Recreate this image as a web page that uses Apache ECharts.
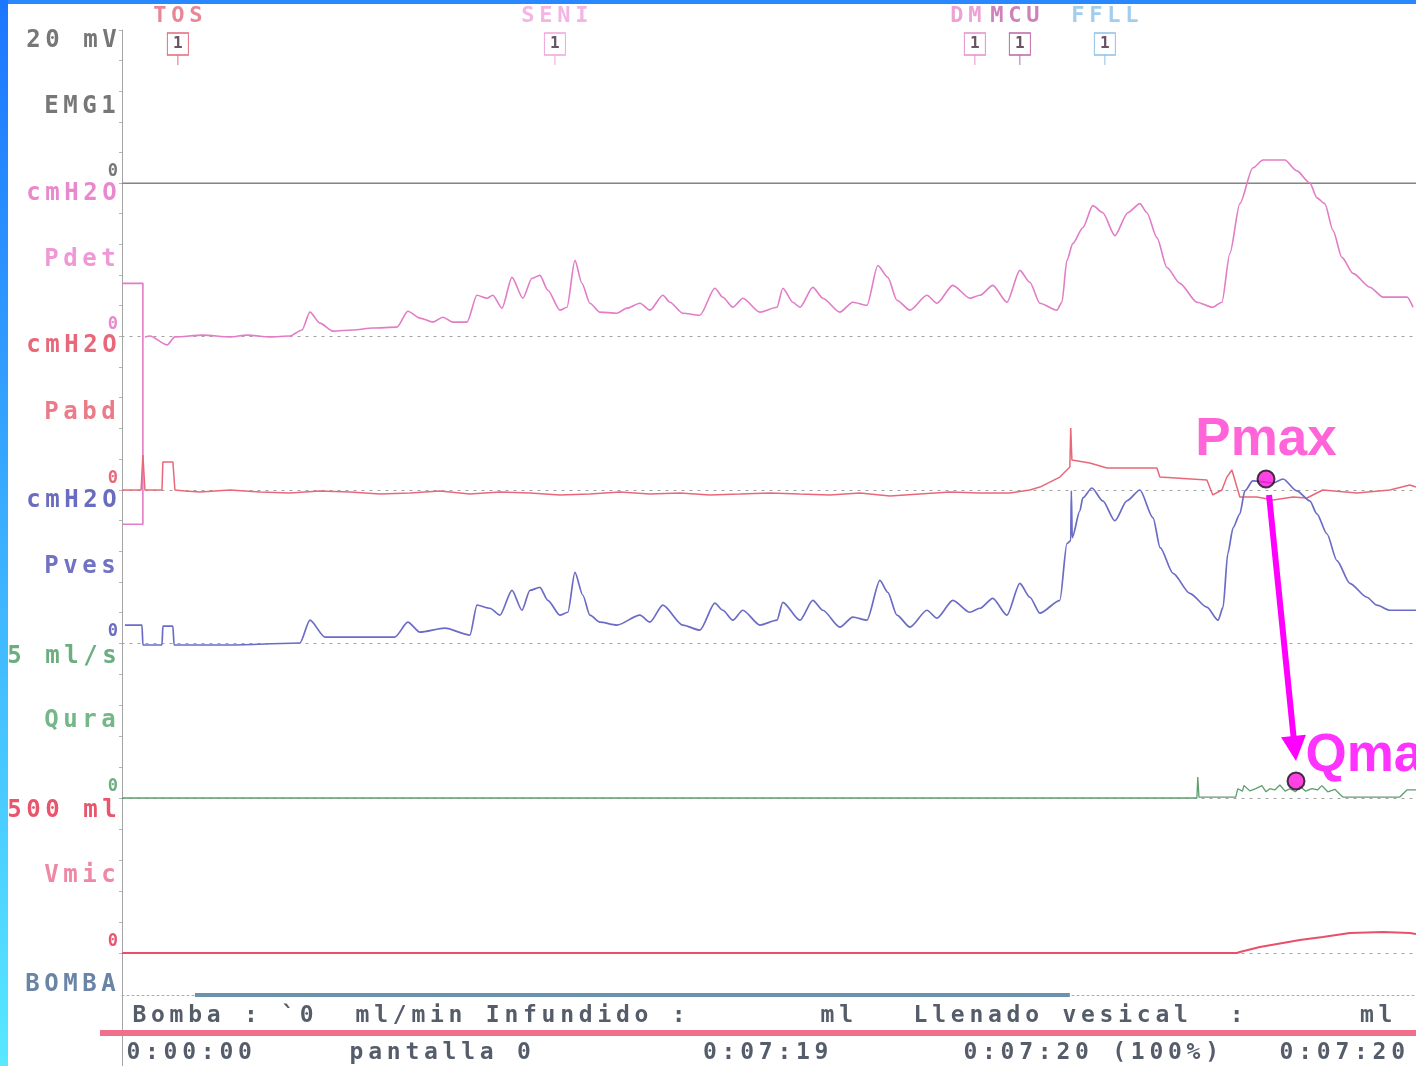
<!DOCTYPE html>
<html>
<head>
<meta charset="utf-8">
<script src="https://cdn.jsdelivr.net/npm/echarts@6/dist/echarts.min.js"></script>
<style>
  html, body { margin: 0; padding: 0; background: #ffffff; }
  #chart { width: 1416px; height: 1066px; }
</style>
</head>
<body>
<div id="chart"></div>
<script>
// Urodynamic filling / voiding study, screen 0 (0:00:00 - 0:07:20).
// Time in seconds; pressures in cmH2O; flow in ml/s; volume in ml.
const TIME_MAX = 440;

const emgTrace = [[0, 0], [440, 0]];

// Pdet calibration step at the start of the screen
const pdetCal = [[0, 34.4], [7.1, 34.4], [7.1, -123], [0.3, -123]];

const pdetTrace = [
  [7.8, -0.6], [9.5, 0], [15.3, -5.8], [18.0, -0.6], [27.5, 0.6], [36.7, -0.6], [42.5, 0.6], [50.3, -0.6],
  [57.1, 0], [61.2, 3.9], [63.9, 15.6], [67.3, 8.4], [71.7, 3.2], [78.5, 3.9], [85.3, 5.2], [93.5, 5.8],
  [97.2, 16.2], [101.3, 11.7], [105.7, 9.1], [109.1, 12.3], [112.5, 9.1], [117.3, 9.1], [120.7, 26.6],
  [124.1, 24.7], [126.1, 26.6], [129.2, 18.2], [132.6, 38.3], [136.3, 24.7], [139.4, 37.7], [142.1, 39.6],
  [144.8, 29.9], [148.9, 16.9], [151.3, 18.8], [154.0, 49.4], [156.4, 34.4], [159.1, 21.4], [162.5, 15.6],
  [168.3, 14.9], [171.7, 18.2], [176.1, 21.4], [179.5, 16.9], [183.9, 26.6], [186.3, 22.1], [190.7, 14.9],
  [196.5, 13.6], [201.6, 31.2], [204.3, 25.3], [207.7, 18.8], [211.1, 24.7], [216.9, 15.6], [222.7, 18.8],
  [224.7, 31.2], [228.1, 22.1], [230.5, 18.8], [234.9, 31.8], [238.3, 24.7], [244.1, 15.6], [248.5, 22.1],
  [253.3, 20.1], [257.0, 46.1], [260.4, 38.3], [263.5, 23.4], [267.9, 16.9], [273.7, 26.6], [277.1, 21.4],
  [282.5, 33.1], [288.3, 24.7], [291.7, 26.6], [296.1, 33.1], [300.9, 22.1], [305.3, 42.9], [308.7, 35.1],
  [312.1, 21.4], [317.9, 16.9], [319.6, 22.1], [321.3, 49.4], [323.3, 60.4], [326.7, 70.8], [330.1, 85.2],
  [333.5, 80.6], [337.6, 65.6], [342.0, 80.6], [346.1, 86.5], [348.5, 80.6], [351.9, 64.3], [355.3, 44.8],
  [359.7, 34.4], [365.5, 22.1], [370.9, 18.8], [374.0, 22.1], [376.7, 53.9], [380.1, 86.5], [384.5, 109.8],
  [388.0, 115.0], [395.4, 115.0], [399.5, 107.9], [403.9, 100.1], [406.3, 90.3], [409.0, 86.5], [411.8, 68.9],
  [414.8, 51.4], [418.6, 40.9], [424.3, 31.9], [428.8, 25.4], [437.0, 25.4], [439.0, 18.8]
];

const pabdTrace = [
  [0, 0], [6.5, 0], [7.1, 22.7], [7.8, 0], [13.6, 0], [13.9, 18.2], [17.3, 18.2], [18.0, 0], [21.4, -0.6],
  [26.5, -1.3], [36.7, 0], [46.9, -1.3], [57.1, -1.9], [67.3, -0.6], [77.5, -1.3], [87.7, -2.6], [97.9, -1.9],
  [108.1, -0.6], [118.3, -2.6], [128.5, -1.3], [138.7, -1.9], [148.9, -3.2], [159.1, -2.6], [169.3, -1.3],
  [179.5, -2.6], [189.7, -1.9], [199.9, -3.2], [210.1, -2.6], [220.3, -1.9], [230.5, -2.6], [240.7, -3.2],
  [250.9, -1.9], [261.1, -3.9], [271.3, -2.6], [281.5, -1.3], [291.7, -1.9], [301.9, -1.9], [308.7, 0],
  [312.1, 1.9], [318.9, 8.4], [322.3, 14.9], [322.6, 40.3], [323.0, 19.5], [329.1, 17.5], [334.9, 14.3],
  [351.9, 14.3], [352.9, 8.4], [368.9, 6.5], [370.9, -3.2], [374.0, 0], [375.7, 8.4], [377.4, 13.0],
  [380.1, -4.5], [385.9, -4.5], [391.4, -6.5], [398.2, -4.5], [402.9, -5.2], [408.3, 0], [419.9, -1.9],
  [431.1, 0], [437.9, 3.2], [440, 1.9]
];

const pvesTrace = [
  [1.0, 11.7], [6.8, 11.7], [7.1, -1.3], [13.6, -1.3], [13.9, 11.0], [17.3, 11.0], [17.7, -1.3], [36.7, -1.3],
  [60.5, 0], [63.9, 14.9], [69.0, 3.9], [92.8, 3.9], [97.2, 13.6], [101.3, 7.1], [109.8, 9.7], [118.3, 5.2],
  [120.7, 24.7], [125.1, 22.7], [128.5, 18.2], [132.6, 34.4], [136.0, 21.4], [138.7, 34.4], [142.1, 36.4],
  [144.8, 27.9], [148.9, 18.2], [151.6, 20.1], [154.0, 46.1], [156.7, 31.2], [159.1, 18.2], [162.5, 13.6],
  [168.3, 11.7], [176.1, 18.2], [179.5, 13.6], [183.9, 24.7], [190.7, 11.7], [196.5, 8.4], [201.6, 26.0],
  [204.3, 21.4], [207.7, 14.9], [211.1, 21.4], [216.9, 11.7], [222.7, 14.9], [224.7, 26.6], [230.5, 14.9],
  [234.9, 27.9], [238.3, 21.4], [244.1, 10.4], [248.5, 16.9], [253.3, 14.9], [257.7, 40.9], [260.4, 33.1],
  [263.5, 18.2], [267.9, 10.4], [273.7, 21.4], [277.1, 16.2], [282.5, 27.9], [288.3, 20.1], [291.7, 22.7],
  [296.1, 29.2], [300.9, 18.2], [305.3, 39.0], [308.7, 29.9], [312.1, 19.5], [318.9, 27.9], [321.3, 64.9],
  [322.6, 66.9], [322.8, 99.4], [323.1, 68.8], [325.7, 86.4], [326.7, 94.8], [329.8, 101.3], [333.5, 92.9],
  [337.6, 79.9], [341.7, 92.9], [346.1, 100.0], [350.6, 81.8], [353.0, 62.3], [357.4, 45.5], [363.1, 32.5],
  [368.9, 23.4], [372.7, 14.9], [374.4, 23.4], [376.0, 58.4], [377.8, 75.3], [380.1, 84.4], [381.8, 99.4],
  [384.5, 105.9], [391.4, 104.6], [394.8, 107.2], [399.5, 99.4], [403.9, 92.9], [406.3, 84.4], [409.7, 71.4],
  [413.1, 53.9], [417.5, 39.0], [423.3, 29.9], [426.7, 24.7], [431.1, 21.4], [440, 21.4]
];

const quraTrace = [
  [0, 0], [365.5, 0], [365.8, 0.68], [366.2, 0.03], [378.7, 0.03], [379.4, 0.3], [381.0, 0.22], [381.5, 0.4],
  [383.5, 0.23], [385.5, 0.3], [387.6, 0.4], [389.0, 0.2], [390.3, 0.3], [392.0, 0.26], [393.7, 0.42],
  [395.5, 0.22], [397.1, 0.3], [399.0, 0.2], [400.5, 0.38], [402.5, 0.22], [404.6, 0.3], [406.5, 0.26],
  [408.0, 0.4], [410.0, 0.2], [412.4, 0.28], [415.1, 0.03], [434.5, 0.03], [436.9, 0.26], [440, 0.26]
];

const vmicTrace = [
  [0, 0], [379.1, 0], [380.1, 3.2], [386.9, 19.4], [394.7, 32.3], [400.5, 41.9], [408.3, 51.6],
  [417.5, 64.5], [428.8, 67.7], [437.9, 64.5], [440, 61.3]
];

// infusion pump running
const bombaTrace = [[24.8, 0], [322.3, 0]];

const eventNames = ['TOS', 'SENI', 'DM', 'MCU', 'FFLL'];
const eventTimes = [19.0, 147.2, 290.0, 305.3, 334.2];

const pmaxPoint = [389.0, 107.2];
const qmaxPoint = [399.2, 0.55];

const statusRow1 = 'Bomba : `0  ml/min Infundido :       ml   Llenado vesical  :      ml';
const statusRow2 = '0:00:00     pantalla 0         0:07:19       0:07:20 (100%)   0:07:20';

// ---- layout & styling ----
const MONO = 'DejaVu Sans Mono';
const channels = [
  { name: 'EMG1', unit: '20 mV', max: 20, top: 30, h: 153, label: '#777777', nameColor: '#777777', unitOff: 11 },
  { name: 'Pdet', unit: 'cmH2O', max: 100, top: 183, h: 153, label: '#e988cd', nameColor: '#ee98d6', unitOff: 11 },
  { name: 'Pabd', unit: 'cmH2O', max: 100, top: 336, h: 154, label: '#e8687a', nameColor: '#ec7a88', unitOff: 10 },
  { name: 'Pves', unit: 'cmH2O', max: 100, top: 490, h: 153, label: '#6a6cc0', nameColor: '#7072c2', unitOff: 11 },
  { name: 'Qura', unit: '5 ml/s', max: 5, top: 643, h: 155, label: '#6cae80', nameColor: '#76b688', unitOff: 14 },
  { name: 'Vmic', unit: '500 ml', max: 500, top: 798, h: 155, label: '#e8566e', nameColor: '#ee88a4', unitOff: 13 }
];
const traceColors = ['#808080', '#e27cc6', '#e8687a', '#6a6cc6', '#5e9e70', '#e8506a'];
const eventColors = ['#e4687a', '#f2a2dc', '#e68ccc', '#c064a8', '#8cc0e8'];
const eventOffsets = [[0, 0], [0, 0], [-9, 0], [-5, 0], [0, 0]];

function cells(str, key) {
  return str.split('').map(ch => '{' + key + '|' + ch + '}').join('');
}

const richLeft = {
  c: { width: 19, align: 'center', fontFamily: MONO, fontWeight: 'bold', fontSize: 24, lineHeight: 26 },
  z: { fontFamily: MONO, fontWeight: 'bold', fontSize: 17, padding: [0, 1, 0, 0] }
};

const grids = [];
const xAxes = [];
const yAxes = [];
const series = [];

channels.forEach((ch, i) => {
  grids.push({ left: 122, width: 1294, top: ch.top, height: ch.h, outerBoundsMode: 'none' });
  xAxes.push({
    type: 'value', gridIndex: i, min: 0, max: TIME_MAX,
    axisLine: { show: true, onZero: false, lineStyle: i === 0 ? { color: '#8a8a8a', width: 1.2 } : { color: '#a0a0a0', width: 1.2, type: [2, 6] } },
    axisTick: { show: false }, axisLabel: { show: false }, splitLine: { show: false }
  });
  const lo = ch.max * 11 / ch.h;
  const hi = ch.max * (1 - ch.unitOff / ch.h);
  yAxes.push({
    type: 'value', gridIndex: i, min: 0, max: ch.max, interval: ch.max / 5,
    axisLine: { show: true, lineStyle: { color: '#a4a4a4', width: 1 } },
    axisTick: { show: true, length: 3, lineStyle: { color: '#b4b4b4' } },
    splitLine: { show: false },
    axisLabel: {
      customValues: [lo, hi], margin: 3, color: ch.label, rich: richLeft,
      formatter: v => (Math.abs(v - lo) < 1e-6 ? '{z|0}' : (Math.abs(v - hi) < 1e-6 ? cells(ch.unit, 'c') : ''))
    },
    name: cells(ch.name, 'c'), nameLocation: 'middle', nameRotate: 0, nameGap: 4, nameMoveOverlap: false,
    nameTextStyle: { color: ch.nameColor, align: 'right', verticalAlign: 'middle', rich: richLeft }
  });
});

// pump row (grid 6) and event marker row (grid 7)
grids.push({ left: 122, width: 1294, top: 975, height: 20, outerBoundsMode: 'none' });
xAxes.push({
  type: 'value', gridIndex: 6, min: 0, max: TIME_MAX,
  axisLine: { show: true, onZero: false, lineStyle: { color: '#a8aeb4', type: [2, 3] } },
  axisTick: { show: false }, axisLabel: { show: false }, splitLine: { show: false }
});
yAxes.push({
  type: 'value', gridIndex: 6, min: 0, max: 1,
  axisLine: { show: true, lineStyle: { color: '#a4a4a4' } }, axisTick: { show: false },
  axisLabel: { show: false }, splitLine: { show: false },
  name: cells('BOMBA', 'c'), nameLocation: 'middle', nameRotate: 0, nameGap: 4, nameMoveOverlap: false,
  nameTextStyle: { color: '#6a84a6', align: 'right', verticalAlign: 'middle', rich: richLeft }
});
grids.push({ left: 122, width: 1294, top: 33, height: 22, outerBoundsMode: 'none' });
xAxes.push({ type: 'value', gridIndex: 7, min: 0, max: TIME_MAX, show: false });
yAxes.push({ type: 'value', gridIndex: 7, min: 0, max: 1, show: false });

function trace(gi, data, color, width, name, smooth) {
  return {
    type: 'line', name, xAxisIndex: gi, yAxisIndex: gi, data, symbol: 'none', showSymbol: false,
    clip: false, silent: true, lineStyle: { color, width }, z: 3,
    smooth: smooth || false, smoothMonotone: smooth ? 'x' : undefined
  };
}

series.push(trace(0, emgTrace, traceColors[0], 1.2, 'EMG1'));
series.push(trace(1, pdetCal, traceColors[1], 1.6, 'Pdet cal'));
series.push(trace(1, pdetTrace, traceColors[1], 1.6, 'Pdet', 0.25));
series.push(trace(2, pabdTrace, traceColors[2], 1.5, 'Pabd'));
series.push(trace(3, pvesTrace, traceColors[3], 1.7, 'Pves', 0.25));
series.push(trace(4, quraTrace, traceColors[4], 1.3, 'Qura'));
series.push(trace(5, vmicTrace, traceColors[5], 2.2, 'Vmic'));
series.push(trace(6, bombaTrace, '#6a92ad', 4, 'BOMBA'));

// event marker boxes
series.push({
  type: 'scatter', xAxisIndex: 7, yAxisIndex: 7, silent: true, clip: false, z: 5,
  symbol: 'path://M0,0H20V22H0Z M10,22V32', symbolSize: [21, 32], symbolOffset: [0, 5],
  itemStyle: { color: '#ffffff', borderWidth: 1.2, opacity: 1 },
  data: eventTimes.map((t, i) => ({ value: [t, 0.5], itemStyle: { borderColor: eventColors[i] } })),
  label: { show: true, position: 'inside', formatter: '1', color: '#6a5462', fontFamily: MONO, fontWeight: 'bold', fontSize: 16, offset: [0, -5] }
});
// event marker names
series.push({
  type: 'scatter', xAxisIndex: 7, yAxisIndex: 7, silent: true, clip: false, z: 5,
  symbolSize: 0,
  data: eventTimes.map((t, i) => ({ value: [t, 0.5], name: eventNames[i], label: { color: eventColors[i], offset: eventOffsets[i] } })),
  label: {
    show: true, position: 'top', distance: 17, formatter: p => cells(p.name, 'e'),
    rich: { e: { width: 18, align: 'center', fontFamily: MONO, fontWeight: 'bold', fontSize: 22 } }
  }
});

// Pmax / Qmax markers
series.push({
  type: 'scatter', xAxisIndex: 3, yAxisIndex: 3, silent: true, clip: false, z: 20,
  data: [pmaxPoint], symbolSize: 17,
  itemStyle: { color: '#ff14dc', borderColor: '#111111', borderWidth: 2 },
  label: { show: true, formatter: 'Pmax', position: 'top', distance: 3, color: '#ff3fcf', fontFamily: 'Liberation Sans', fontWeight: 'bold', fontSize: 53 }
});
series.push({
  type: 'scatter', xAxisIndex: 4, yAxisIndex: 4, silent: true, clip: false, z: 20,
  data: [qmaxPoint], symbolSize: 17,
  itemStyle: { color: '#ff14dc', borderColor: '#111111', borderWidth: 2 },
  label: { show: true, formatter: 'Qmax', position: 'right', distance: 0, offset: [0, -25], color: '#ff00ff', fontFamily: 'Liberation Sans', fontWeight: 'bold', fontSize: 53 }
});

const option = {
  animation: false,
  backgroundColor: '#ffffff',
  grid: grids,
  xAxis: xAxes,
  yAxis: yAxes,
  series: series
};

const chart = echarts.init(document.getElementById('chart'), null, { renderer: 'canvas' });
chart.setOption(option);

// decorations and the Pmax -> Qmax arrow, placed from the axes' own scales
const p = chart.convertToPixel({ gridIndex: 3 }, pmaxPoint);
const q = chart.convertToPixel({ gridIndex: 4 }, qmaxPoint);
const axisX = chart.convertToPixel({ gridIndex: 0 }, [0, 0])[0];
const s = [p[0] + 3, p[1] + 16];
const tip = [q[0], q[1] - 20];
const dx = tip[0] - s[0], dy = tip[1] - s[1];
const len = Math.sqrt(dx * dx + dy * dy);
const ux = dx / len, uy = dy / len;
const headLen = 25, headHalf = 12.5;
const base = [tip[0] - ux * headLen, tip[1] - uy * headLen];
const nx = -uy, ny = ux;

const statusRich = { b: { width: 18.6, align: 'center', fontFamily: MONO, fontWeight: 'bold', fontSize: 23 } };

chart.setOption({
  graphic: [
    { type: 'line', z: 1, shape: { x1: axisX + 0.5, y1: 953, x2: axisX + 0.5, y2: 1066 }, style: { stroke: '#a4a4a4', lineWidth: 1 } },
    { type: 'rect', z: 1, shape: { x: 100, y: 1030, width: 1316, height: 6 }, style: { fill: '#f0708c' } },
    {
      type: 'text', z: 2, x: 130, y: 1016,
      style: { text: cells(statusRow1, 'b'), rich: statusRich, fill: '#555d6a', verticalAlign: 'middle', align: 'left' }
    },
    {
      type: 'text', z: 2, x: 124, y: 1053,
      style: { text: cells(statusRow2, 'b'), rich: statusRich, fill: '#555d6a', verticalAlign: 'middle', align: 'left' }
    },
    {
      type: 'line', z: 30,
      shape: { x1: s[0], y1: s[1], x2: base[0] + ux * 2, y2: base[1] + uy * 2 },
      style: { stroke: '#ff00ff', lineWidth: 6 }
    },
    {
      type: 'polygon', z: 30,
      shape: { points: [tip, [base[0] + nx * headHalf, base[1] + ny * headHalf], [base[0] - nx * headHalf, base[1] - ny * headHalf]] },
      style: { fill: '#ff00ff' }
    },
    { type: 'rect', z: 40, shape: { x: 0, y: 0, width: 1416, height: 4 }, style: { fill: '#2a88ff' } },
    {
      type: 'rect', z: 41, shape: { x: 0, y: 0, width: 8, height: 1066 },
      style: { fill: new echarts.graphic.LinearGradient(0, 0, 0, 1, [{ offset: 0, color: '#1c76ff' }, { offset: 1, color: '#58e8ff' }]) }
    }
  ]
});
</script>
</body>
</html>
